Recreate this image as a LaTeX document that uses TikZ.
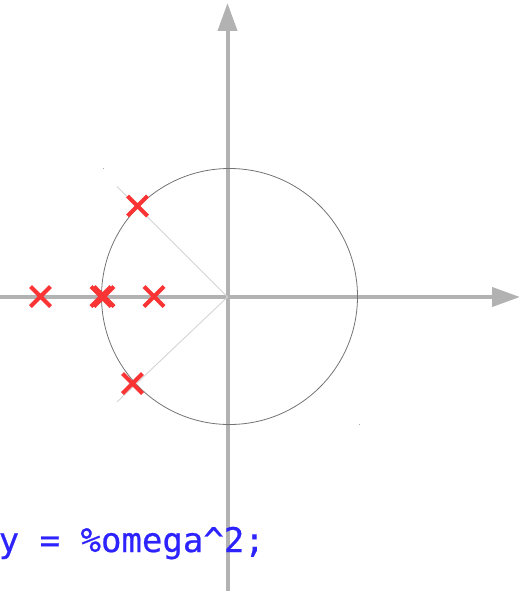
\documentclass[tikz,border=0pt]{standalone}
\usepackage{fontspec}
\newfontfamily\consolefont[FakeBold=0.6]{DejaVu Sans Mono}
\usetikzlibrary{arrows.meta,shapes.misc}
\definecolor{axisgray}{RGB}{178,178,178}
\definecolor{circgray}{RGB}{115,115,115}
\definecolor{guidegray}{RGB}{212,212,212}
\definecolor{polered}{RGB}{250,52,52}
\definecolor{codeblue}{RGB}{45,35,255}
\begin{document}
\begin{tikzpicture}[
    x=1pt,y=-1pt,
    axis/.style={draw=axisgray,line width=4pt,-{Triangle[length=28pt,width=19pt]}},
    guide/.style={draw=guidegray,line width=0.9pt},
    pole/.style={cross out,draw=polered,line width=4pt,minimum size=16pt,inner sep=0pt},
    code/.style={anchor=base west,inner sep=0pt,text=codeblue,font=\consolefont\fontsize{34}{40}\selectfont}
]
\useasboundingbox (0,0) rectangle (526,591);

% axes
\coordinate (O) at (227.5,297);
\coordinate (xstart) at (-5,297);
\coordinate (xend) at (520,297);
\coordinate (ystart) at (227.5,600);
\coordinate (yend) at (227.5,3);
\draw[axis] (xstart) -- (xend);
\draw[axis] (ystart) -- (yend);

% unit circle and damping lines
\draw[circgray,line width=0.8pt] (229.5,296.5) circle[radius=128];
\coordinate (gtop) at (117,186.5);
\coordinate (gbot) at (117,402);
\draw[guide] (gtop) -- (O);
\draw[guide] (gbot) -- (O);
\fill[circgray!60] (102.5,168) rectangle ++(1,1);
\fill[circgray!60] (358.5,424) rectangle ++(1,1);

% poles
\node[pole] (p1) at (40.5,296.5) {};
\node[pole] (p2) at (101,296.5) {};
\node[pole] (p3) at (104,296.5) {};
\node[pole] (p4) at (154,296.5) {};
\node[pole] (p5) at (137.5,206) {};
\node[pole] (p6) at (132.5,383.5) {};

% console line
\node[code] (cmd) at (-1.5,552) {y = \%omega\textasciicircum 2;};
\end{tikzpicture}
\end{document}
